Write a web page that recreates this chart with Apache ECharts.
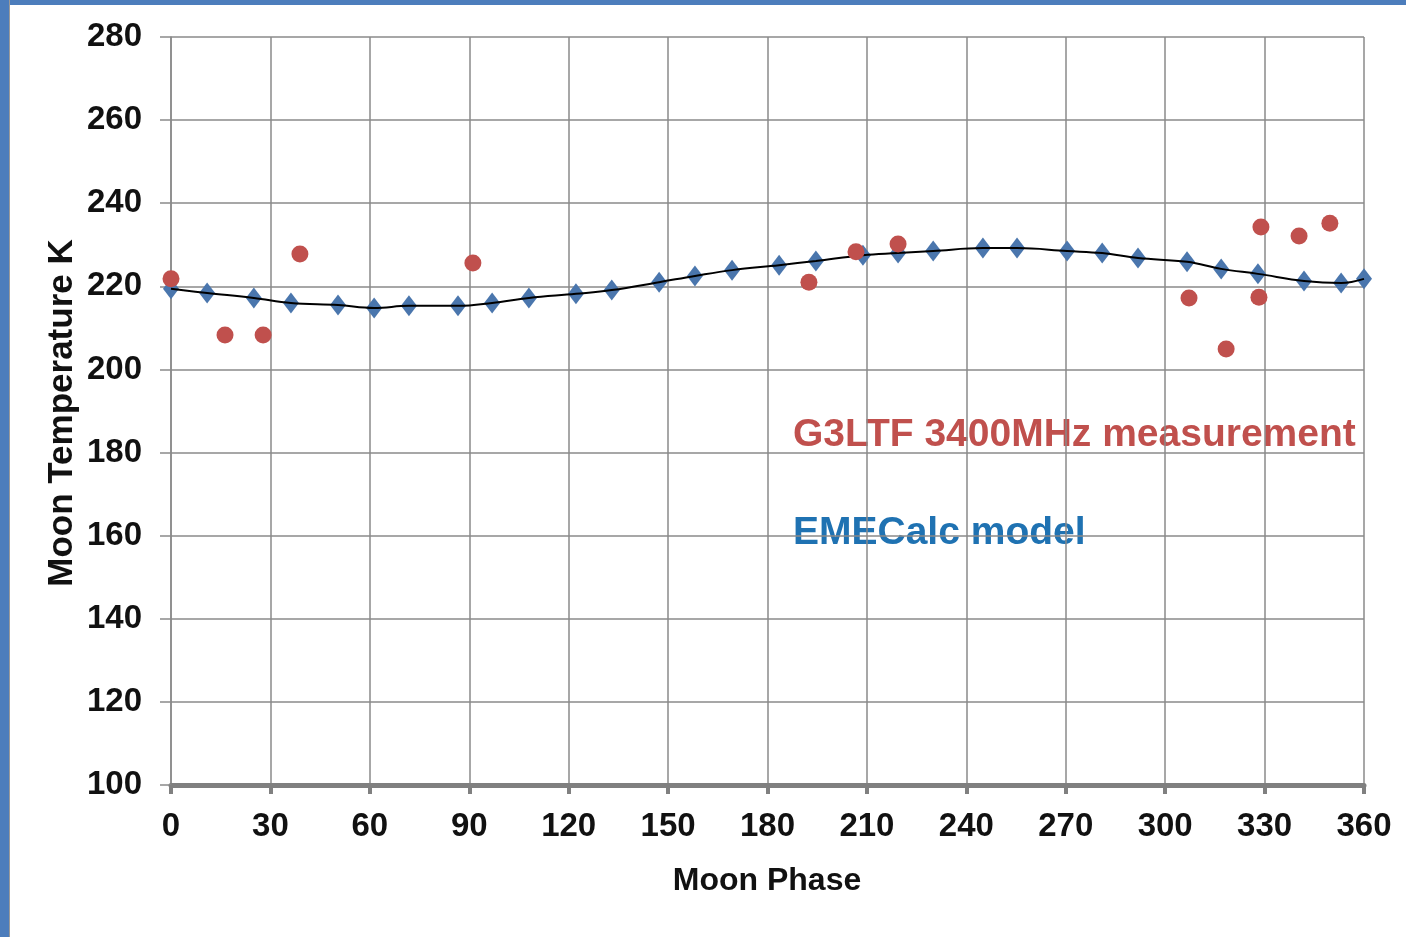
<!DOCTYPE html>
<html>
<head>
<meta charset="utf-8">
<script src="https://cdn.jsdelivr.net/npm/echarts@6/dist/echarts.min.js"></script>
<style>
html,body{margin:0;padding:0;background:#fff;}
#frame{position:absolute;left:0;top:0;width:1406px;height:937px;background:#fff;}
#blueTop{position:absolute;left:0;top:0;width:1406px;height:5px;background:#4C7DBC;}
#blueLeft{position:absolute;left:0;top:0;width:9px;height:937px;background:#4C7DBC;border-right:1px solid #9a9a9a;}
#chart{position:absolute;left:0;top:0;width:1406px;height:937px;}
</style>
</head>
<body>
<div id="frame"></div>
<div id="chart"></div>
<div id="blueTop"></div>
<div id="blueLeft"></div>
<script>
// Model (EMECalc) points: phase, temperature
const modelPhase = [0, 10.9, 25, 36.2, 50.4, 61.3, 71.8, 86.6, 96.9, 108, 122.2, 133, 147.3, 158.1, 169.3, 183.5, 194.6, 208.8, 219.4, 230, 245, 255.3, 270.4, 281, 291.8, 306.6, 316.9, 328, 341.9, 353.1, 360];
const modelTemp  = [219.4, 218.4, 217.2, 216.0, 215.5, 214.8, 215.3, 215.3, 216.0, 217.2, 218.2, 219.1, 221.0, 222.5, 223.9, 225.1, 226.1, 227.5, 228.0, 228.5, 229.2, 229.2, 228.5, 228.0, 226.8, 225.9, 224.2, 223.0, 221.3, 220.8, 221.8];
// G3LTF 3400MHz measurements
const measPhase = [0, 16.3, 27.8, 38.9, 91.1, 192.5, 206.7, 219.4, 307.2, 318.4, 328.9, 328.3, 340.4, 349.7];
const measTemp  = [221.8, 208.3, 208.3, 227.8, 225.6, 221.0, 228.3, 230.2, 217.2, 204.9, 234.3, 217.4, 232.1, 235.2];
const xTicks = [0, 30, 60, 90, 120, 150, 180, 210, 240, 270, 300, 330, 360];
const yTicks = [100, 120, 140, 160, 180, 200, 220, 240, 260, 280];

const FONT = "'Liberation Sans', Arial, sans-serif";
const chart = echarts.init(document.getElementById('chart'), null, {renderer: 'canvas'});
const modelData = modelPhase.map((x, i) => [x, modelTemp[i]]);
const measData = measPhase.map((x, i) => [x, measTemp[i]]);

chart.setOption({
  backgroundColor: 'transparent',
  animation: false,
  grid: {left: 171, top: 37, width: 1193, height: 748, containLabel: false},
  xAxis: {
    type: 'value', min: xTicks[0], max: xTicks[xTicks.length - 1], interval: 30,
    axisLine: {show: true, onZero: false, lineStyle: {color: '#808080', width: 5}},
    axisTick: {show: true, inside: false, length: 9, lineStyle: {color: '#808080', width: 4}},
    axisLabel: {fontFamily: FONT, fontWeight: 'bold', fontSize: 33, color: '#111', margin: 25},
    splitLine: {show: true, lineStyle: {color: '#8a8a8a', width: 1.5}}
  },
  yAxis: {
    type: 'value', min: yTicks[0], max: yTicks[yTicks.length - 1], interval: 20,
    axisLine: {show: true, lineStyle: {color: '#8a8a8a', width: 1.5}},
    axisTick: {show: true, inside: false, length: 11, lineStyle: {color: '#8a8a8a', width: 1.5}},
    axisLabel: {fontFamily: FONT, fontWeight: 'bold', fontSize: 33, color: '#111', margin: 29},
    splitLine: {show: true, lineStyle: {color: '#8a8a8a', width: 1.5}}
  },
  series: [
    {
      name: 'EMECalc line', type: 'line', data: modelData, smooth: 0.4,
      showSymbol: false, symbol: 'none', z: 3,
      lineStyle: {color: '#000', width: 2}
    },
    {
      name: 'EMECalc model', type: 'scatter', data: modelData,
      symbol: 'diamond', symbolSize: [16, 21], z: 2,
      itemStyle: {color: '#4A76AD', opacity: 1}
    },
    {
      name: 'G3LTF 3400MHz measurement', type: 'scatter', data: measData,
      symbol: 'circle', symbolSize: 17, z: 4,
      itemStyle: {color: '#C0504D', opacity: 1}
    }
  ],
  graphic: [
    {type: 'text', left: 793, top: 416, style: {text: 'G3LTF 3400MHz measurement', fill: '#C0504D', font: "bold 39px 'Liberation Sans', Arial, sans-serif"}},
    {type: 'text', left: 793, top: 514, style: {text: 'EMECalc model', fill: '#1F72B2', font: "bold 39px 'Liberation Sans', Arial, sans-serif"}},
    {type: 'text', x: 767, y: 881, style: {text: 'Moon Phase', fill: '#111', font: "bold 32px 'Liberation Sans', Arial, sans-serif", align: 'center', verticalAlign: 'middle'}},
    {type: 'text', x: 62, y: 413, rotation: Math.PI / 2, style: {text: 'Moon Temperature K', fill: '#111', font: "bold 35px 'Liberation Sans', Arial, sans-serif", align: 'center', verticalAlign: 'middle'}}
  ]
});
</script>
</body>
</html>
